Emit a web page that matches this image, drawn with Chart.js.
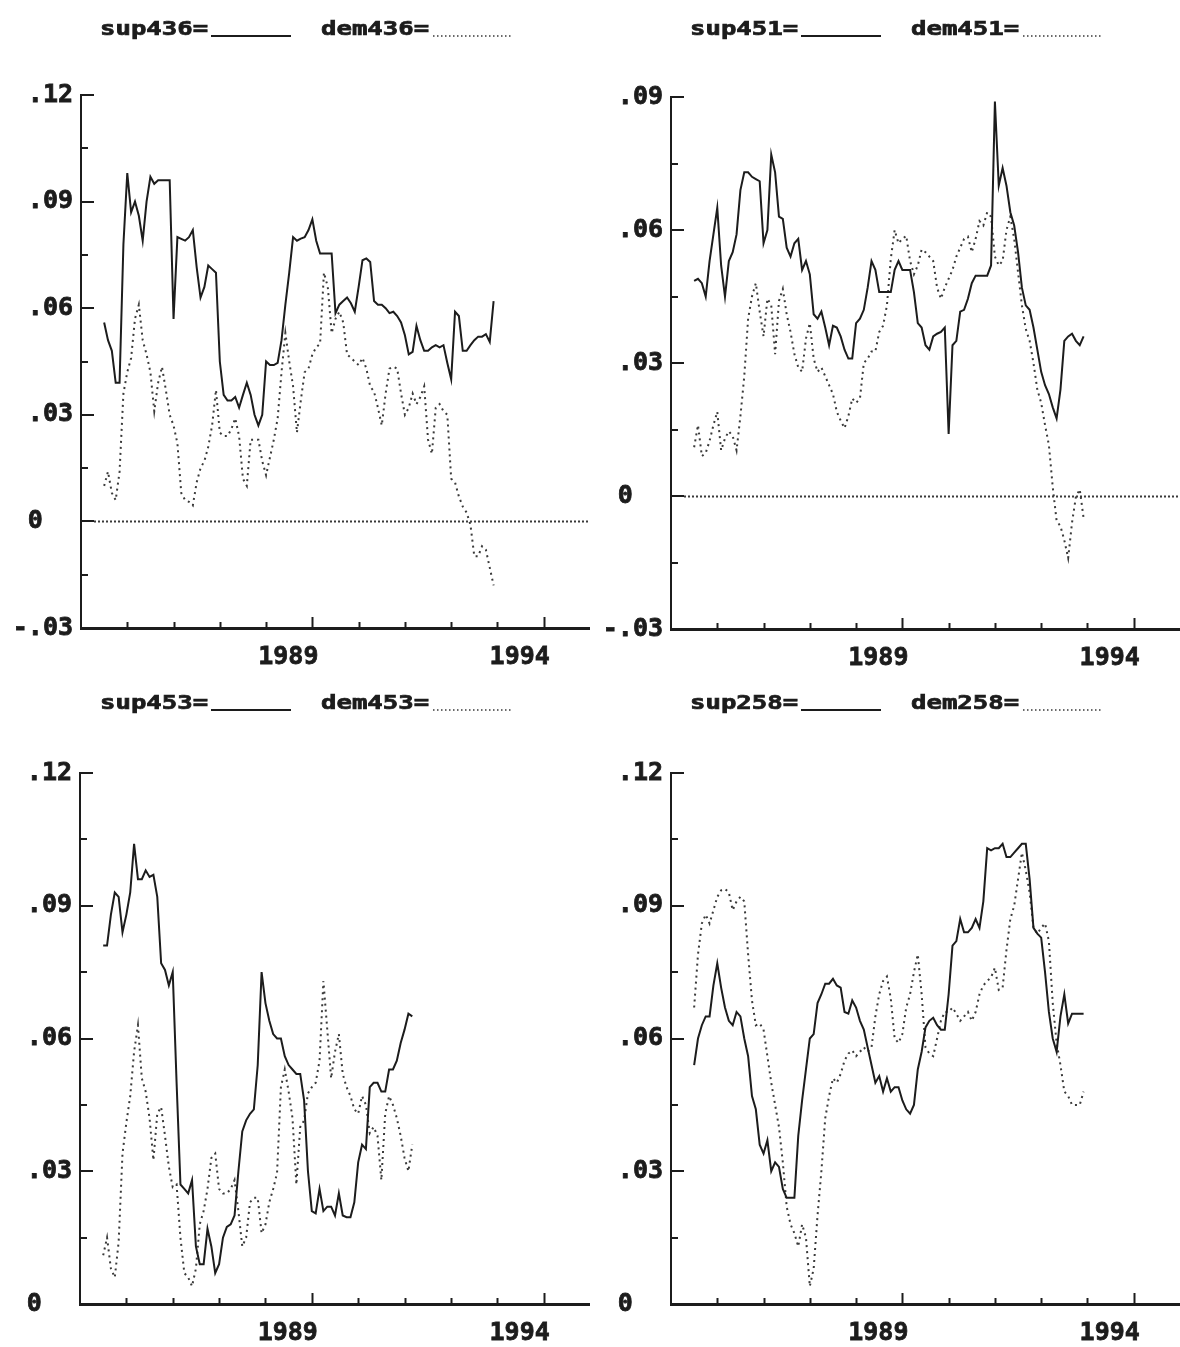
<!DOCTYPE html>
<html>
<head>
<meta charset="utf-8">
<script src="https://cdn.jsdelivr.net/npm/chart.js@4.4.0/dist/chart.umd.min.js"></script>
<style>
  html, body { margin: 0; padding: 0; background: #fff; }
  #page { position: relative; width: 1180px; height: 1347px; overflow: hidden; background: #fff; }
  #page canvas { position: absolute; }
</style>
</head>
<body>
<div id="page">
  <canvas id="p436" width="590" height="673" style="left:0;top:0"></canvas>
  <canvas id="p451" width="590" height="673" style="left:590px;top:0"></canvas>
  <canvas id="p453" width="590" height="673" style="left:0;top:674px"></canvas>
  <canvas id="p258" width="590" height="673" style="left:590px;top:674px"></canvas>
</div>
<script>
// Monthly observations, starting July 1984.
const sup436 = [
  .056,.051,.048,.039,.039,.078,.098,.087,.090,.086,
  .079,.090,.097,.095,.096,.096,.096,.096,.057,.080,
  .0795,.079,.080,.082,.0715,.063,.066,.072,.071,.070,
  .045,.0356,.034,.034,.035,.032,.0356,.039,.0356,.030,
  .027,.030,.045,.044,.044,.0446,.051,.061,.070,.080,
  .079,.0796,.080,.082,.085,.079,.0754,.0754,.0754,.0754,
  .0586,.061,.062,.063,.0614,.059,.066,.0735,.074,.073,
  .062,.061,.061,.060,.0586,.059,.0578,.056,.0524,.047,
  .0477,.055,.051,.048,.048,.049,.0496,.049,.0496,.0446,
  .040,.059,.0578,.048,.048,.0496,.051,.052,.052,.0527,
  .0505,.062
];
const dem436 = [
  .010,.014,.008,.006,.014,.036,.042,.046,.057,.061,
  .051,.047,.042,.031,.039,.0435,.037,.030,.027,.022,
  .008,.006,.0055,.0045,.011,.015,.017,.021,.027,.037,
  .025,.024,.024,.026,.029,.024,.012,.010,.023,.023,
  .023,.017,.013,.018,.023,.029,.042,.053,.045,.038,
  .025,.034,.042,.043,.047,.049,.050,.070,.066,.053,
  .057,.059,.056,.047,.046,.045,.044,.046,.043,.038,
  .0365,.032,.027,.036,.043,.0435,.043,.036,.030,.032,
  .036,.033,.035,.038,.023,.019,.032,.033,.031,.030,
  .012,.011,.007,.0042,.0025,-.001,-.0098,-.0098,-.007,-.008,
  -.013,-.018
];
const sup451 = [
  .0485,.049,.048,.045,.053,.059,.065,.052,.045,.053,
  .055,.059,.069,.073,.073,.072,.0715,.071,.057,.060,
  .077,.073,.063,.0625,.056,.054,.057,.058,.051,.053,
  .050,.041,.040,.0416,.038,.034,.0384,.038,.036,.033,
  .031,.031,.039,.040,.042,.047,.053,.051,.046,.046,
  .046,.046,.051,.053,.051,.051,.051,.046,.039,.038,
  .034,.033,.036,.0366,.037,.038,.014,.034,.035,.0416,
  .042,.0445,.048,.0497,.0497,.0497,.0497,.052,.089,.070,
  .074,.070,.064,.061,.055,.047,.043,.042,.038,.033,
  .028,.025,.023,.020,.0175,.024,.035,.036,.0366,.035,
  .034,.036
];
const dem451 = [
  .011,.016,.009,.0097,.0124,.016,.019,.0103,.013,.0146,
  .0135,.0103,.018,.027,.040,.045,.048,.0416,.036,.0445,
  .043,.032,.044,.0467,.041,.037,.032,.029,.028,.0355,
  .039,.031,.028,.029,.027,.025,.023,.019,.017,.0153,
  .018,.022,.021,.022,.030,.031,.0326,.0326,.037,.0384,
  .043,.0535,.060,.057,.058,.0587,.053,.050,.052,.0556,
  .055,.054,.053,.047,.0445,.047,.049,.051,.054,.056,
  .058,.0585,.055,.058,.062,.061,.064,.063,.054,.052,
  .053,.060,.063,.058,.0505,.043,.0377,.035,.030,.024,
  .021,.016,.0115,.002,-.0056,-.0068,-.010,-.014,-.006,-.0002,
  .0015,-.005
];
const sup453 = [
  .081,.081,.088,.093,.092,.084,.088,.093,.104,.096,
  .096,.098,.0965,.097,.092,.077,.0755,.072,.075,.050,
  .027,.026,.025,.028,.013,.009,.009,.017,.013,.007,
  .009,.015,.0174,.018,.020,.030,.039,.0415,.043,.044,
  .054,.075,.068,.064,.061,.060,.060,.056,.054,.053,
  .052,.052,.046,.030,.021,.0205,.026,.021,.022,.022,
  .020,.025,.020,.0196,.0196,.023,.032,.036,.035,.049,
  .050,.050,.048,.048,.053,.053,.055,.059,.062,.0656,
  .065
];
const dem453 = [
  .011,.015,.008,.006,.014,.034,.041,.047,.057,.063,
  .051,.048,.042,.0325,.043,.0445,.038,.031,.0264,.027,
  .015,.007,.006,.004,.008,.018,.021,.026,.033,.034,
  .026,.025,.025,.026,.028,.021,.013,.015,.023,.024,
  .024,.016,.018,.023,.026,.0296,.049,.053,.048,.042,
  .027,.040,.0415,.0476,.049,.050,.055,.073,.062,.051,
  .057,.061,.052,.049,.047,.044,.043,.047,.045,.0386,
  .040,.038,.028,.043,.047,.045,.042,.038,.033,.030,
  .036
];
const sup258 = [
  .054,.060,.063,.065,.065,.072,.077,.0715,.067,.064,
  .063,.066,.065,.060,.056,.047,.044,.036,.034,.037,
  .030,.032,.031,.026,.024,.024,.024,.038,.046,.053,
  .060,.061,.068,.070,.0724,.0724,.0735,.072,.0715,.066,
  .0656,.0686,.067,.064,.062,.058,.054,.050,.0515,.048,
  .051,.048,.049,.049,.046,.044,.043,.045,.053,.057,
  .0625,.064,.0647,.063,.062,.062,.070,.081,.082,.087,
  .084,.084,.085,.087,.085,.091,.103,.1025,.103,.103,
  .104,.101,.101,.102,.103,.104,.104,.096,.085,.0837,
  .0828,.075,.066,.060,.057,.065,.070,.0634,.0656,.0656,
  .0656,.0656
];
const dem258 = [
  .067,.079,.086,.088,.086,.089,.092,.0935,.0938,.093,
  .089,.091,.092,.091,.079,.0686,.063,.0634,.062,.056,
  .050,.045,.040,.032,.022,.018,.016,.013,.018,.015,
  .004,.008,.020,.030,.042,.047,.051,.050,.052,.055,
  .0566,.0573,.056,.057,.058,.057,.058,.065,.070,.073,
  .074,.069,.060,.059,.061,.067,.070,.075,.079,.070,
  .058,.0566,.056,.060,.064,.066,.066,.067,.0656,.064,
  .065,.066,.064,.066,.070,.072,.073,.0738,.076,.071,
  .0715,.080,.087,.090,.096,.102,.098,.093,.085,.0837,
  .085,.086,.082,.068,.059,.054,.048,.047,.045,.045,
  .045,.048
];

// Time axis: first observation is July 1984, one point per month.
const startYear = 1984, startMonth = 7;
const axisYears = [1984, 1995];
const labeledYears = ['1989', '1994'];

const INK = '#1c1c1c';
const DOT_INK = '#3a3a3a';
const MONO = "'DejaVu Sans Mono', 'Liberation Mono', monospace";

function monthly(values) {
  return values.map((v, i) => ({ x: startYear + (startMonth - 1 + i) / 12, y: v }));
}
function isLabeledValue(v) {
  const r = v / 0.03;
  return Math.abs(r - Math.round(r)) < 1e-6;
}
function fmtValue(v) {
  if (Math.abs(v) < 1e-9) return '0  ';
  const s = Math.abs(v).toFixed(2).replace(/^0/, '');
  return (v < 0 ? '-' : '') + s;
}

// Axis tick marks (inside the plot), the dotted zero line and the key line.
const framePlugin = {
  id: 'frame',
  afterDatasetsDraw(chart) {
    const ctx = chart.ctx;
    const xs = chart.scales.x, ys = chart.scales.y;
    ctx.save();
    ctx.strokeStyle = INK;
    ctx.lineWidth = 2;
    ctx.setLineDash([]);
    xs.ticks.forEach(t => {
      if (t.value <= xs.min || t.value >= xs.max) return;
      const px = Math.round(xs.getPixelForValue(t.value)) + 0.5;
      const len = labeledYears.includes(String(t.value)) ? 11 : 6;
      ctx.beginPath();
      ctx.moveTo(px, ys.bottom);
      ctx.lineTo(px, ys.bottom - len);
      ctx.stroke();
    });
    ys.ticks.forEach(t => {
      if (t.value <= ys.min) return;
      const py = Math.round(ys.getPixelForValue(t.value));
      const len = isLabeledValue(t.value) ? 13 : 7;
      ctx.beginPath();
      ctx.moveTo(xs.left, py);
      ctx.lineTo(xs.left + len, py);
      ctx.stroke();
    });
    if (ys.min < 0) {
      const y0 = Math.round(ys.getPixelForValue(0)) + 0.5;
      ctx.strokeStyle = DOT_INK;
      ctx.lineWidth = 2;
      ctx.setLineDash([2, 2]);
      ctx.beginPath();
      ctx.moveTo(xs.left + 13, y0);
      ctx.lineTo(xs.right, y0);
      ctx.stroke();
    }
    ctx.restore();
  },
  afterDraw(chart) {
    const ctx = chart.ctx;
    const ds = chart.data.datasets;
    const baseY = 35;
    ctx.save();
    ctx.fillStyle = INK;
    ctx.strokeStyle = INK;
    ctx.lineWidth = 0.7;
    ctx.font = "bold 19px " + MONO;
    ctx.textBaseline = 'alphabetic';
    const drawWide = (text, x) => {
      ctx.save();
      ctx.translate(x, baseY);
      ctx.scale(1.35, 1);
      ctx.fillText(text, 0, 0);
      ctx.strokeText(text, 0, 0);
      ctx.restore();
    };
    drawWide(ds[0].label + '=', 100);
    drawWide(ds[1].label + '=', 321);
    ctx.lineWidth = 2;
    ctx.beginPath();
    ctx.moveTo(211, baseY + 1);
    ctx.lineTo(291, baseY + 1);
    ctx.stroke();
    ctx.strokeStyle = DOT_INK;
    ctx.lineWidth = 1.5;
    ctx.setLineDash([1.5, 2.5]);
    ctx.beginPath();
    ctx.moveTo(433, baseY + 1);
    ctx.lineTo(511, baseY + 1);
    ctx.stroke();
    ctx.restore();
  }
};

function makePanel(id, supName, supVals, demName, demVals, yMin, yMax, geom) {
  const canvas = document.getElementById(id);
  const tickFont = { family: MONO, weight: 'bold', size: 25 };
  return new Chart(canvas, {
    type: 'line',
    data: {
      datasets: [
        { label: supName, data: monthly(supVals), borderColor: INK, borderWidth: 2,
          pointRadius: 0, tension: 0, fill: false },
        { label: demName, data: monthly(demVals), borderColor: DOT_INK, borderWidth: 2,
          borderDash: [2, 4], pointRadius: 0, tension: 0, fill: false }
      ]
    },
    options: {
      responsive: false,
      animation: false,
      devicePixelRatio: 1,
      layout: { padding: { top: geom.top, right: 0, bottom: 0, left: 0 } },
      plugins: { legend: { display: false }, tooltip: { enabled: false }, title: { display: false } },
      scales: {
        x: {
          type: 'linear',
          min: axisYears[0], max: axisYears[1],
          grid: { display: false, drawTicks: false },
          border: { display: true, color: INK, width: 3 },
          ticks: {
            stepSize: 1, autoSkip: false, maxRotation: 0, minRotation: 0,
            labelOffset: -24, padding: 14, color: INK,
            textStrokeColor: INK, textStrokeWidth: 0.8,
            font: tickFont,
            callback: v => labeledYears.includes(String(v)) ? String(v) : ''
          },
          afterFit(s) { s.height = geom.xh; s.paddingLeft = 0; s.paddingRight = 0; }
        },
        y: {
          min: yMin, max: yMax,
          grid: { display: false, drawTicks: false },
          border: { display: true, color: INK, width: 2 },
          ticks: {
            stepSize: 0.015, autoSkip: false, padding: 8, color: INK,
            textStrokeColor: INK, textStrokeWidth: 0.8,
            font: tickFont,
            callback: v => isLabeledValue(v) ? fmtValue(v) : ''
          },
          afterFit(s) { s.width = geom.yw; s.paddingTop = 0; s.paddingBottom = 0; }
        }
      }
    },
    plugins: [framePlugin]
  });
}

makePanel('p436', 'sup436', sup436, 'dem436', dem436, -0.03, 0.12, { top: 95, xh: 45, yw: 81 });
makePanel('p451', 'sup451', sup451, 'dem451', dem451, -0.03, 0.09, { top: 97, xh: 44, yw: 81 });
makePanel('p453', 'sup453', sup453, 'dem453', dem453, 0, 0.12, { top: 99, xh: 43, yw: 80 });
makePanel('p258', 'sup258', sup258, 'dem258', dem258, 0, 0.12, { top: 99, xh: 43, yw: 81 });
</script>
</body>
</html>
